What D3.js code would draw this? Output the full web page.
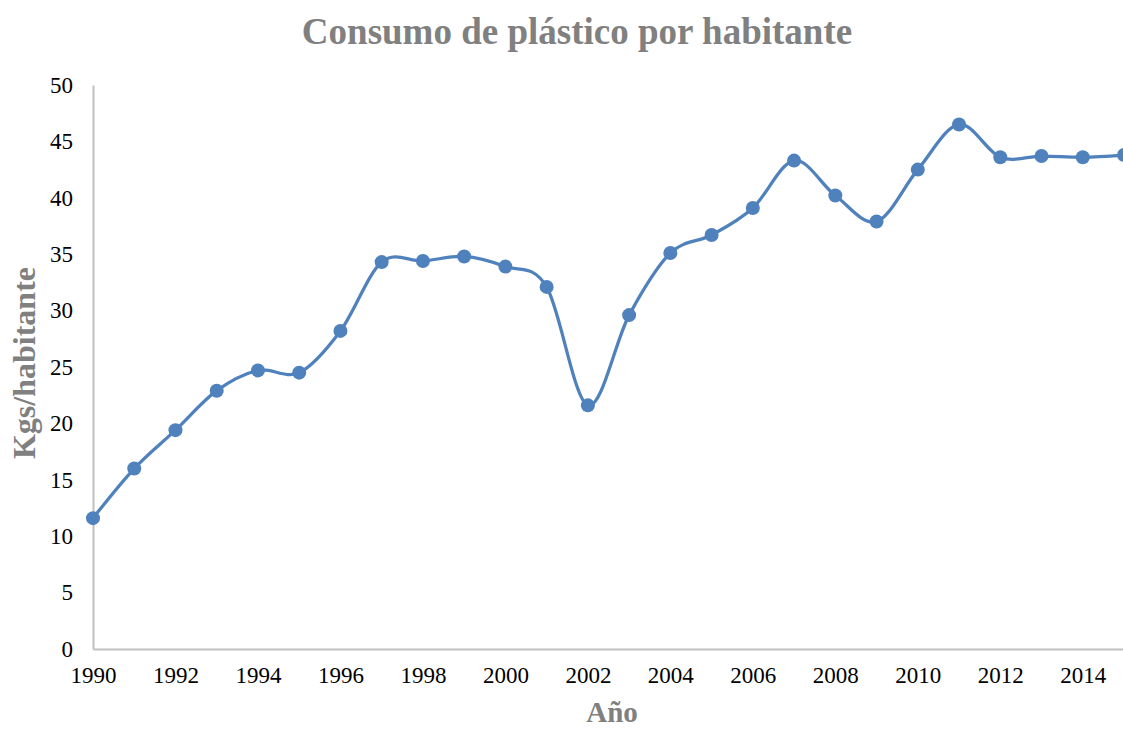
<!DOCTYPE html>
<html>
<head>
<meta charset="utf-8">
<script src="https://cdn.jsdelivr.net/npm/d3@7"></script>
<style>
  html, body { margin: 0; padding: 0; background: #fff; }
  svg { display: block; }
</style>
</head>
<body>
<svg id="chart" width="1123" height="729"></svg>
<script>
// Per-capita plastic consumption (kg per inhabitant), 1990–2015
const years = [1990, 1991, 1992, 1993, 1994, 1995, 1996, 1997, 1998, 1999, 2000, 2001, 2002,
               2003, 2004, 2005, 2006, 2007, 2008, 2009, 2010, 2011, 2012, 2013, 2014, 2015];
const kgPerCapita = [11.6, 16.0, 19.4, 22.9, 24.7, 24.5, 28.2, 34.3, 34.4, 34.8, 33.9, 32.1, 21.6,
                     29.6, 35.1, 36.7, 39.1, 43.3, 40.2, 37.9, 42.5, 46.5, 43.6, 43.7, 43.6, 43.8];
const yTicks = [0, 5, 10, 15, 20, 25, 30, 35, 40, 45, 50];
const xTicks = [1990, 1992, 1994, 1996, 1998, 2000, 2002, 2004, 2006, 2008, 2010, 2012, 2014];

const titleText = "Consumo de plástico por habitante";
const xTitle = "Año";
const yTitle = "Kgs/habitante";

const svg = d3.select("#chart");
const serif = "'Liberation Serif', 'Times New Roman', serif";
const grey = "#808080";
const axisColor = "#bfbfbf";
const lineColor = "#4f81bd";

const x = d3.scaleLinear().domain([1990, 2015]).range([93, 1124]);
const y = d3.scaleLinear().domain([0, 50]).range([649, 85]);

// Title
svg.append("text")
  .attr("x", 577).attr("y", 44)
  .attr("text-anchor", "middle")
  .attr("font-family", serif).attr("font-weight", "bold")
  .attr("font-size", 37).attr("fill", grey)
  .text(titleText);

// Y axis
const yAxis = svg.append("g")
  .attr("transform", `translate(${x(1990)},0)`)
  .call(d3.axisLeft(y).tickValues(yTicks).tickSize(0).tickPadding(20).tickFormat(d3.format("d")));
yAxis.select(".domain").attr("stroke", axisColor).attr("stroke-width", 2);
yAxis.selectAll("text").attr("font-family", serif).attr("font-size", 23).attr("fill", "#000");

// X axis
const xAxis = svg.append("g")
  .attr("transform", `translate(0,${y(0)})`)
  .call(d3.axisBottom(x).tickValues(xTicks).tickSize(0).tickPadding(18).tickFormat(d3.format("d")));
xAxis.select(".domain").attr("stroke", axisColor).attr("stroke-width", 2);
xAxis.selectAll("text").attr("font-family", serif).attr("font-size", 23).attr("fill", "#000");

// Axis titles
svg.append("text")
  .attr("x", 612).attr("y", 722)
  .attr("text-anchor", "middle")
  .attr("font-family", serif).attr("font-weight", "bold")
  .attr("font-size", 29).attr("fill", grey)
  .text(xTitle);

svg.append("text")
  .attr("transform", `translate(35,363) rotate(-90)`)
  .attr("text-anchor", "middle")
  .attr("font-family", serif).attr("font-weight", "bold")
  .attr("font-size", 32).attr("fill", grey)
  .text(yTitle);

// Smoothed series line
const data = years.map((yr, i) => ({ yr, v: kgPerCapita[i] }));
const line = d3.line()
  .x(d => x(d.yr)).y(d => y(d.v))
  .curve(d3.curveCardinal.tension(0));

svg.append("path")
  .datum(data)
  .attr("fill", "none")
  .attr("stroke", lineColor)
  .attr("stroke-width", 3.25)
  .attr("d", line);

// Markers
svg.append("g").selectAll("circle")
  .data(data).join("circle")
  .attr("cx", d => x(d.yr)).attr("cy", d => y(d.v))
  .attr("r", 7)
  .attr("fill", lineColor);
</script>
</body>
</html>
